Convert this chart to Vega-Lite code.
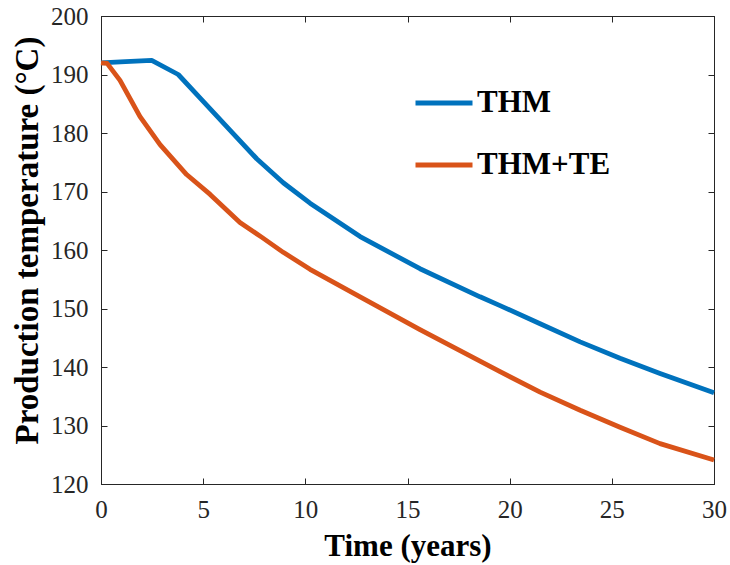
{
  "$schema": "https://vega.github.io/schema/vega-lite/v6.json",
  "width": 613,
  "height": 468,
  "autosize": {"type": "none"},
  "padding": {"left": 101, "top": 16, "right": 16, "bottom": 81},
  "background": "white",
  "config": {
    "font": "Liberation Serif",
    "view": {"stroke": "#262626", "strokeWidth": 1}
  },
  "data": {
    "values": [
      {"t": 0, "temp": 192.0, "series": "THM"},
      {"t": 1.2, "temp": 192.2, "series": "THM"},
      {"t": 2.48, "temp": 192.4, "series": "THM"},
      {"t": 3.78, "temp": 190.0, "series": "THM"},
      {"t": 4.9, "temp": 185.8, "series": "THM"},
      {"t": 6.31, "temp": 180.5, "series": "THM"},
      {"t": 7.62, "temp": 175.6, "series": "THM"},
      {"t": 8.92, "temp": 171.5, "series": "THM"},
      {"t": 10.23, "temp": 168.0, "series": "THM"},
      {"t": 12.68, "temp": 162.3, "series": "THM"},
      {"t": 15.61, "temp": 156.8, "series": "THM"},
      {"t": 18.55, "temp": 152.0, "series": "THM"},
      {"t": 19.53, "temp": 150.5, "series": "THM"},
      {"t": 21.49, "temp": 147.4, "series": "THM"},
      {"t": 23.45, "temp": 144.3, "series": "THM"},
      {"t": 25.4, "temp": 141.5, "series": "THM"},
      {"t": 27.36, "temp": 138.9, "series": "THM"},
      {"t": 30, "temp": 135.6, "series": "THM"},
      {"t": 0, "temp": 192.0, "series": "THM+TE"},
      {"t": 0.3, "temp": 191.9, "series": "THM+TE"},
      {"t": 0.93, "temp": 189.0, "series": "THM+TE"},
      {"t": 1.91, "temp": 182.8, "series": "THM+TE"},
      {"t": 2.89, "temp": 178.0, "series": "THM+TE"},
      {"t": 4.19, "temp": 172.9, "series": "THM+TE"},
      {"t": 5.34, "temp": 169.5, "series": "THM+TE"},
      {"t": 6.8, "temp": 164.7, "series": "THM+TE"},
      {"t": 7.86, "temp": 162.2, "series": "THM+TE"},
      {"t": 8.92, "temp": 159.6, "series": "THM+TE"},
      {"t": 10.23, "temp": 156.7, "series": "THM+TE"},
      {"t": 12.68, "temp": 152.0, "series": "THM+TE"},
      {"t": 15.61, "temp": 146.4, "series": "THM+TE"},
      {"t": 18.55, "temp": 141.0, "series": "THM+TE"},
      {"t": 19.53, "temp": 139.2, "series": "THM+TE"},
      {"t": 21.49, "temp": 135.7, "series": "THM+TE"},
      {"t": 23.45, "temp": 132.6, "series": "THM+TE"},
      {"t": 25.4, "temp": 129.7, "series": "THM+TE"},
      {"t": 27.36, "temp": 126.9, "series": "THM+TE"},
      {"t": 30, "temp": 124.1, "series": "THM+TE"}
    ]
  },
  "layer": [
    {
      "mark": {"type": "line", "strokeWidth": 4.8, "strokeJoin": "round"},
      "encoding": {
        "x": {
          "field": "t", "type": "quantitative",
          "scale": {"domain": [0, 30], "nice": false, "zero": false},
          "axis": {
            "orient": "bottom", "values": [0, 5, 10, 15, 20, 25, 30],
            "title": "Time (years)", "titleFont": "Liberation Serif", "titleFontSize": 31,
            "titleFontWeight": "bold", "titleColor": "#000000", "titlePadding": 9,
            "labelFont": "Liberation Serif", "labelFontSize": 25, "labelColor": "#262626",
            "labelPadding": 19, "tickSize": -6, "tickColor": "#262626",
            "domainColor": "#262626", "grid": false, "labelFlush": false
          }
        },
        "y": {
          "field": "temp", "type": "quantitative",
          "scale": {"domain": [120, 200], "nice": false, "zero": false},
          "axis": {
            "orient": "left", "values": [120, 130, 140, 150, 160, 170, 180, 190, 200],
            "title": "Production temperature (°C)", "titleFont": "Liberation Serif", "titleFontSize": 33,
            "titleFontWeight": "bold", "titleColor": "#000000", "titlePadding": 6, "titleY": 224,
            "labelFont": "Liberation Serif", "labelFontSize": 25, "labelColor": "#262626",
            "labelPadding": 19, "tickSize": -6, "tickColor": "#262626",
            "domainColor": "#262626", "grid": false, "labelFlush": false
          }
        },
        "color": {
          "field": "series", "type": "nominal",
          "scale": {"domain": ["THM", "THM+TE"], "range": ["#0072BD", "#D95319"]},
          "legend": {
            "orient": "none", "legendX": 312, "legendY": 56, "title": null,
            "padding": 0, "symbolType": "stroke", "symbolSize": 3249, "symbolStrokeWidth": 4.8,
            "labelFont": "Liberation Serif", "labelFontSize": 31, "labelFontWeight": "bold",
            "labelColor": "#000000", "labelOffset": 2, "rowPadding": 16
          }
        }
      }
    },
    {
      "mark": {"type": "line", "opacity": 0},
      "encoding": {
        "x": {
          "field": "t", "type": "quantitative",
          "axis": {"orient": "top", "values": [0, 5, 10, 15, 20, 25, 30], "labels": false, "title": null,
                   "tickSize": -6, "tickColor": "#262626", "domainColor": "#262626", "grid": false}
        },
        "y": {
          "field": "temp", "type": "quantitative",
          "axis": {"orient": "right", "values": [120, 130, 140, 150, 160, 170, 180, 190, 200], "labels": false, "title": null,
                   "tickSize": -6, "tickColor": "#262626", "domainColor": "#262626", "grid": false}
        },
        "detail": {"field": "series"}
      }
    }
  ],
  "resolve": {"axis": {"x": "independent", "y": "independent"}}
}
